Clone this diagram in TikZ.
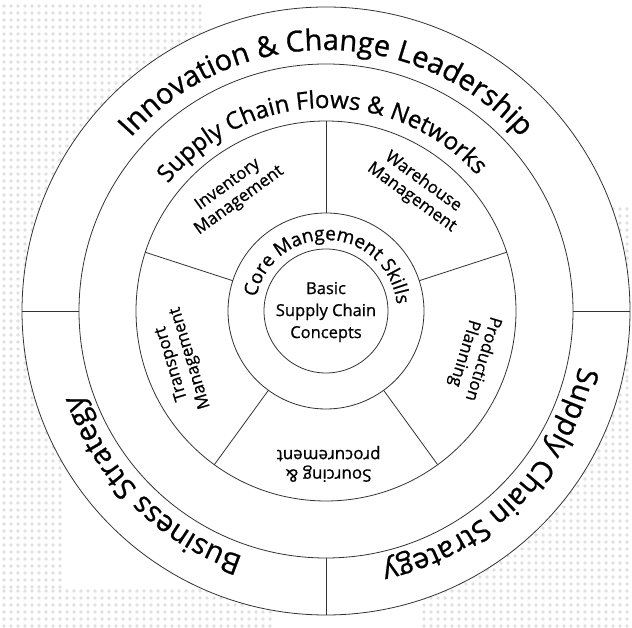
\documentclass[tikz,border=0pt]{standalone}
\usepackage{fontspec}
\setmainfont{Open Sans}[FakeBold=0.8]
\usetikzlibrary{decorations.text,calc}
\begin{document}
\begin{tikzpicture}[x=1pt,y=1pt,
  ring/.style={draw=black!80, line width=0.8pt},
  dotc/.style={fill=black!12},
  segtext/.style={align=center, font=\fontsize{17}{19.5}\selectfont, inner sep=0pt, text=black},
  ctext/.style={align=center, font=\fontsize{16.5}{22}\selectfont, inner sep=0pt, text=black}]
\useasboundingbox (0,0) rectangle (632,628);
\fill[white] (0,0) rectangle (632,628);
\coordinate (C) at (326,317);
% faint background texture
\foreach \x in {4,11,...,200}{\foreach \y in {300,307,...,626}{\fill[dotc] (\x,\y) circle[radius=1.8];}}
\foreach \x in {4,11,...,60}{\foreach \y in {41,48,...,300}{\fill[dotc] (\x,\y) circle[radius=1.8];}}
\foreach \x in {4,11,...,270}{\foreach \y in {2,9,...,40}{\fill[dotc] (\x,\y) circle[radius=1.8];}}
\foreach \x in {424,431,...,630}{\foreach \y in {2,9,...,250}{\fill[dotc] (\x,\y) circle[radius=1.8];}}
\foreach \x in {578,585,...,630}{\foreach \y in {251,258,...,420}{\fill[dotc] (\x,\y) circle[radius=1.8];}}
\fill[white] (C) circle[radius=304];
% rings
\draw[ring] (C) circle[radius=304];
\draw[ring] (C) circle[radius=247];
\draw[ring] (C) circle[radius=190];
\draw[ring] (C) circle[radius=98];
\draw[ring] (C) circle[radius=62];
% outer dividers
\foreach \a/\n in {0/r,180/l,270/b}{
  \coordinate (o\n1) at ($(C)+(\a:247)$);
  \coordinate (o\n2) at ($(C)+(\a:304)$);
  \draw[ring] (o\n1) -- (o\n2);
}
% spokes
\foreach \a/\n in {90/a,18/b,-54/c,-126/d,162/e}{
  \coordinate (s\n1) at ($(C)+(\a:98)$);
  \coordinate (s\n2) at ($(C)+(\a:190)$);
  \draw[ring] (s\n1) -- (s\n2);
}
% curved texts
\path[decorate, decoration={text along path, text align=center,
  text={|\fontsize{29}{34}\selectfont|Innovation {\&} Change Leadership}}]
  ($(C)+(180:261)$) arc[start angle=180, end angle=0, radius=261];
\path[decorate, decoration={text along path, text align=center,
  text={|\fontsize{29}{34}\selectfont|Business Strategy}}]
  ($(C)+(270:259)$) arc[start angle=270, end angle=180, radius=259];
\path[decorate, decoration={text along path, text align=center,
  text={|\fontsize{29}{34}\selectfont|Supply Chain Strategy}}]
  ($(C)+(0:259)$) arc[start angle=0, end angle=-90, radius=259];
\path[decorate, decoration={text along path, text align=center,
  text={|\fontsize{24}{28}\selectfont|Supply Chain Flows {\&} Networks}}]
  ($(C)+(181.5:203)$) arc[start angle=181.5, end angle=1.5, radius=203];
\path[decorate, decoration={text along path, text align=center,
  text={|\fontsize{19}{22}\selectfont|Core Mangement Skills}}]
  ($(C)+(177:71)$) arc[start angle=177, end angle=-3, radius=71];
% segment labels
\node[segtext, rotate=36] (inv) at ($(C)+(128:150)$) {Inventory\\Management};
\node[segtext, rotate=-36] (war) at ($(C)+(53:152)$) {Warehouse\\Management};
\node[segtext, rotate=-107] (pro) at ($(C)+(-17:154)$) {Production\\Planning};
\node[segtext, rotate=180] (sou) at ($(C)+(271:153)$) {Sourcing \&\\procurement};
\node[segtext, rotate=107] (tra) at ($(C)+(199:153)$) {Transport\\Management};
% centre
\node[ctext] (basic) at ($(C)+(0,-1)$) {Basic\\Supply Chain\\Concepts};
\end{tikzpicture}
\end{document}
